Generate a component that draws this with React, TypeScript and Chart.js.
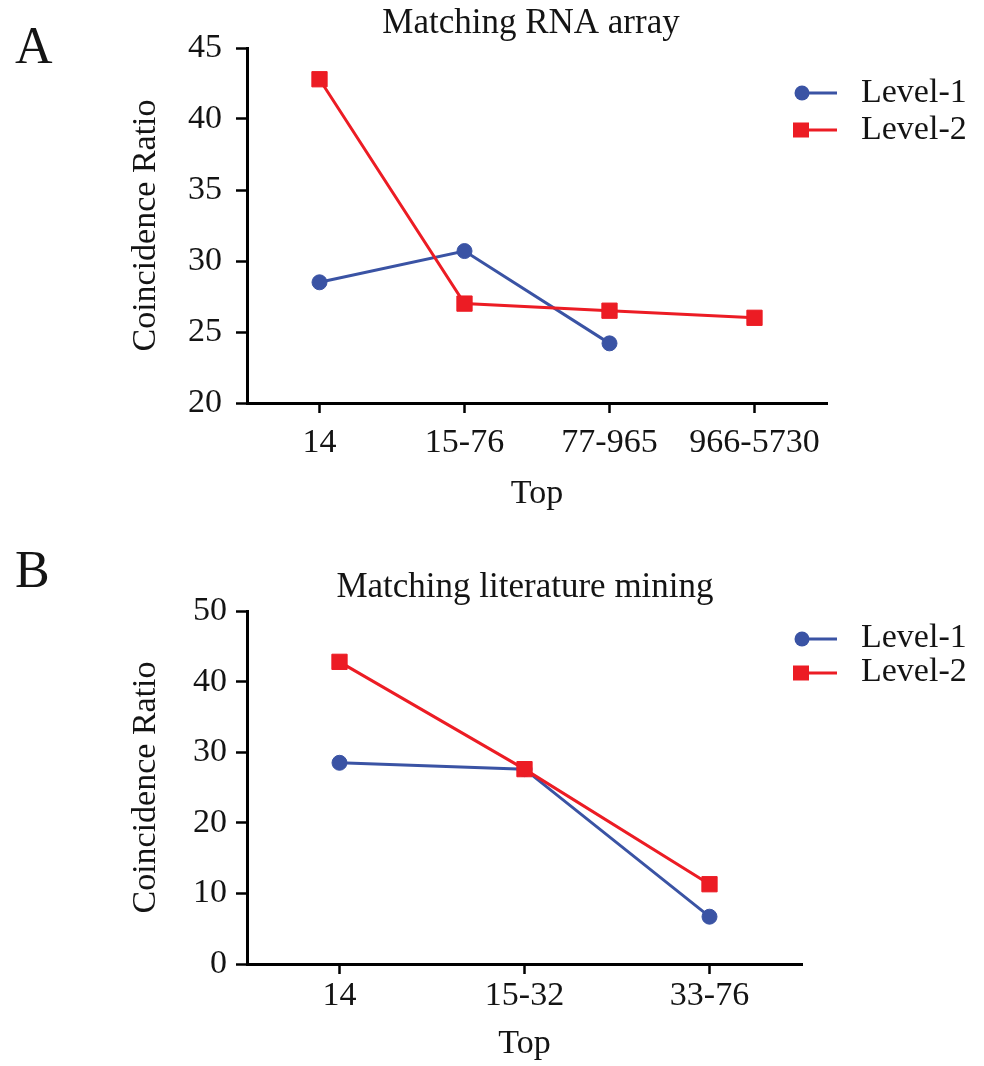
import React, { useEffect, useRef } from 'react';
import { Chart, registerables } from 'chart.js';

Chart.register(...registerables);

// ---------------- data ----------------
const seriesNames = ['Level-1', 'Level-2'];

const categoriesA = ['14', '15-76', '77-965', '966-5730'];
const level1A = [28.5, 30.7, 24.2, null];
const level2A = [42.8, 27.0, 26.5, 26.0];
const yTicksA = [20, 25, 30, 35, 40, 45];

const categoriesB = ['14', '15-32', '33-76'];
const level1B = [28.5, 27.6, 6.7];
const level2B = [42.8, 27.6, 11.3];
const yTicksB = [0, 10, 20, 30, 40, 50];

const titleA = 'Matching RNA array';
const titleB = 'Matching literature mining';
const xTitle = 'Top';
const yTitle = 'Coincidence Ratio';

// ---------------- style ----------------
const FONT = '"Liberation Serif", "Times New Roman", Times, serif';
const BLUE = '#3a53a4';
const RED = '#ec1c24';
const INK = '#141414';
const W = 984;
const H = 533;

type PanelCfg = {
  letter: string;
  title: string;
  categories: string[];
  l1: (number | null)[];
  l2: (number | null)[];
  yTicks: number[];
  letterY: number;
  titleX: number;
  titleY: number;
  legendRows: number[];
  legendTextDy: number;
  padding: { left: number; right: number; top: number; bottom: number };
  xHeight: number;
  xTickPad: number;
  yTickPad: number;
};

const panels: PanelCfg[] = [
  {
    letter: 'A',
    title: titleA,
    categories: categoriesA,
    l1: level1A,
    l2: level2A,
    yTicks: yTicksA,
    letterY: 63,
    titleX: 531,
    titleY: 33,
    legendRows: [93, 130],
    legendTextDy: 8.5,
    padding: { left: 0, right: 157, top: 48, bottom: 19 },
    xHeight: 111,
    xTickPad: 10,
    yTickPad: 14,
  },
  {
    letter: 'B',
    title: titleB,
    categories: categoriesB,
    l1: level1B,
    l2: level2B,
    yTicks: yTicksB,
    letterY: 54,
    titleX: 525,
    titleY: 64,
    legendRows: [106, 140],
    legendTextDy: 8,
    padding: { left: 0, right: 182, top: 78, bottom: 2 },
    xHeight: 100,
    xTickPad: 2,
    yTickPad: 9,
  },
];

function decorPlugin(p: PanelCfg) {
  return {
    id: 'decor',
    afterDraw(chart: any) {
      const ctx = chart.ctx as CanvasRenderingContext2D;
      ctx.save();
      ctx.fillStyle = INK;
      ctx.textBaseline = 'alphabetic';
      // panel letter
      ctx.textAlign = 'left';
      ctx.font = `52px ${FONT}`;
      ctx.fillText(p.letter, 15, p.letterY);
      // title
      ctx.textAlign = 'center';
      ctx.font = `35px ${FONT}`;
      ctx.fillText(p.title, p.titleX, p.titleY);
      // legend
      const colors = [BLUE, RED];
      seriesNames.forEach((name, i) => {
        const y = p.legendRows[i];
        ctx.strokeStyle = colors[i];
        ctx.fillStyle = colors[i];
        ctx.lineWidth = 3;
        ctx.beginPath();
        ctx.moveTo(802, y);
        ctx.lineTo(837, y);
        ctx.stroke();
        if (i === 0) {
          ctx.beginPath();
          ctx.arc(802, y, 7.5, 0, Math.PI * 2);
          ctx.fill();
        } else {
          ctx.fillRect(793, y - 7.5, 16, 15);
        }
        ctx.fillStyle = INK;
        ctx.textAlign = 'left';
        ctx.font = `34px ${FONT}`;
        ctx.fillText(name, 861, y + p.legendTextDy);
      });
      ctx.restore();
    },
  };
}

function Panel({ p }: { p: PanelCfg }) {
  const ref = useRef<HTMLCanvasElement>(null);
  useEffect(() => {
    const font = { family: FONT, size: 34 };
    const gridCommon = {
      display: true,
      drawOnChartArea: false,
      drawTicks: true,
      tickColor: '#000',
      tickWidth: 2.5,
    };
    const chart = new Chart(ref.current as HTMLCanvasElement, {
      type: 'line',
      data: {
        labels: p.categories,
        datasets: [
          {
            label: seriesNames[0],
            data: p.l1,
            borderColor: BLUE,
            backgroundColor: BLUE,
            borderWidth: 3,
            pointStyle: 'circle',
            pointRadius: 7.5,
            pointBorderWidth: 1,
            pointBackgroundColor: BLUE,
            pointBorderColor: BLUE,
            spanGaps: false,
            tension: 0,
            order: 2,
            clip: false,
          },
          {
            label: seriesNames[1],
            data: p.l2,
            borderColor: RED,
            backgroundColor: RED,
            borderWidth: 3,
            pointStyle: 'rect',
            pointRadius: 10.8,
            pointBorderWidth: 1,
            pointBackgroundColor: RED,
            pointBorderColor: RED,
            tension: 0,
            order: 1,
            clip: false,
          },
        ],
      },
      options: {
        responsive: false,
        animation: false,
        devicePixelRatio: 1,
        layout: { padding: p.padding },
        plugins: {
          legend: { display: false },
          title: { display: false },
          tooltip: { enabled: false },
        },
        scales: {
          x: {
            type: 'category',
            offset: true,
            border: { display: true, color: '#000', width: 3 },
            grid: { ...gridCommon, tickLength: 10, offset: false },
            ticks: {
              color: INK,
              font,
              padding: p.xTickPad,
              maxRotation: 0,
              autoSkip: false,
            },
            title: {
              display: true,
              text: xTitle,
              color: INK,
              font,
              padding: { top: 0, bottom: 0 },
            },
            afterFit: (s: any) => {
              s.height = p.xHeight;
            },
          },
          y: {
            type: 'linear',
            min: p.yTicks[0],
            max: p.yTicks[p.yTicks.length - 1],
            border: { display: true, color: '#000', width: 3 },
            grid: { ...gridCommon, tickLength: 11 },
            ticks: {
              color: INK,
              font,
              padding: p.yTickPad,
              stepSize: p.yTicks[1] - p.yTicks[0],
            },
            title: {
              display: true,
              text: yTitle,
              color: INK,
              font,
              padding: { top: 126, bottom: 0 },
            },
            afterFit: (s: any) => {
              s.width = 247;
            },
          },
        },
      },
      plugins: [decorPlugin(p)],
    } as any);
    return () => chart.destroy();
  }, [p]);
  return (
    <canvas
      ref={ref}
      width={W}
      height={H}
      style={{ display: 'block', width: W, height: H }}
    />
  );
}

export default function App() {
  useEffect(() => {
    document.body.style.margin = '0';
    document.body.style.background = '#fff';
  }, []);
  return (
    <div style={{ width: W, background: '#fff' }}>
      {panels.map((p) => (
        <Panel key={p.letter} p={p} />
      ))}
    </div>
  );
}
